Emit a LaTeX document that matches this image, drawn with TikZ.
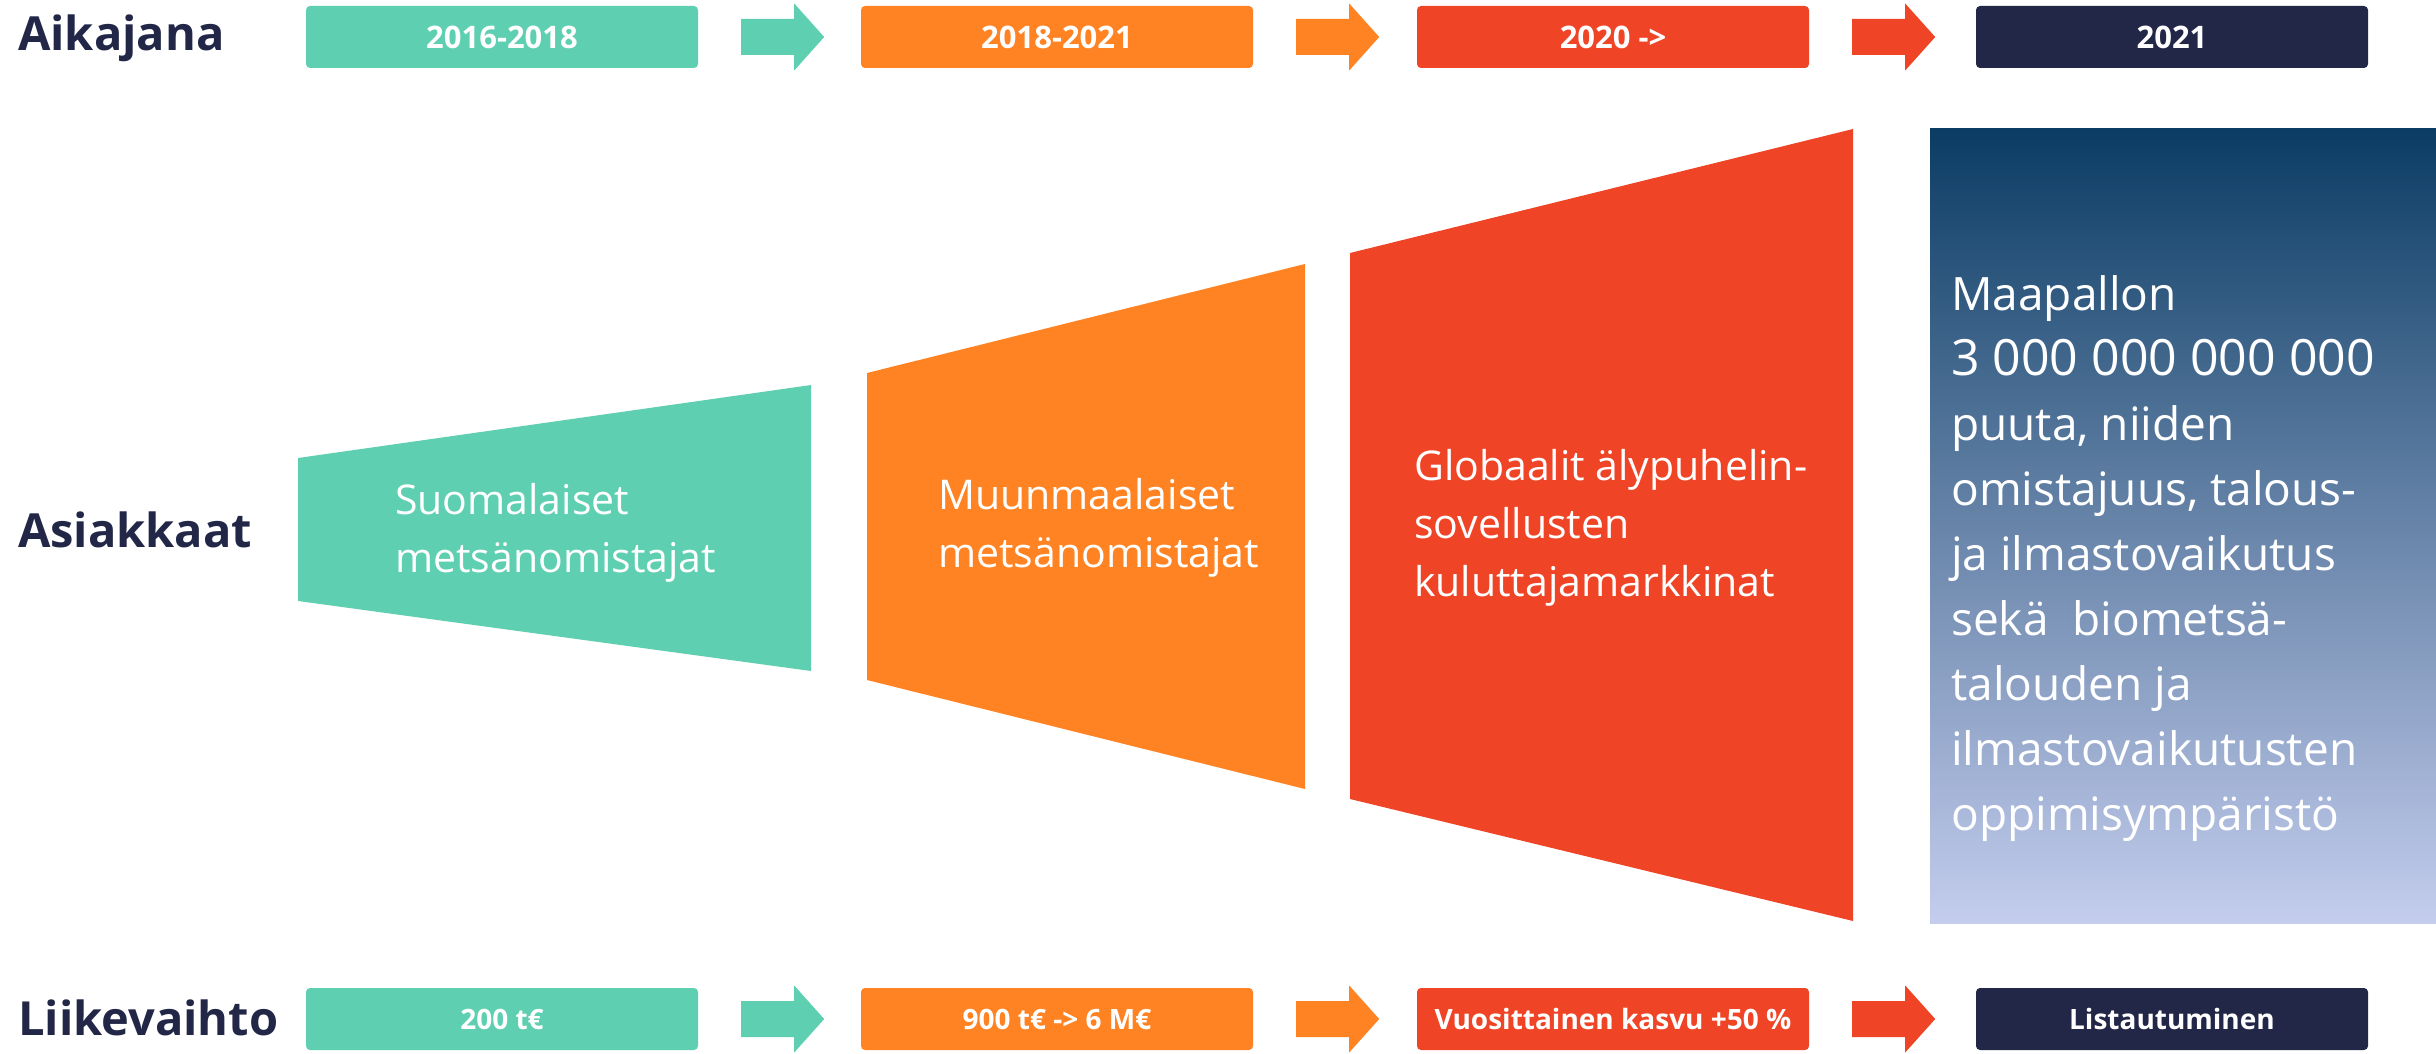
\documentclass[tikz,border=0pt]{standalone}
\usepackage{fontspec}
\setmainfont{Open Sans}
\usetikzlibrary{calc}
\definecolor{cteal}{HTML}{5ECFB1}
\definecolor{corange}{HTML}{FF8323}
\definecolor{cred}{HTML}{F04426}
\definecolor{cnavy}{HTML}{222747}
\definecolor{gtop}{HTML}{0B3C64}
\definecolor{gmid}{HTML}{6782B2}
\definecolor{gbot}{HTML}{C4CDEE}
\begin{document}
\begin{tikzpicture}[x=1pt,y=-1pt,
  rowlabel/.style={anchor=base west,text=cnavy,inner sep=0,font=\fontsize{47}{56}\selectfont\bfseries},
  tbox/.style={minimum width=392pt,minimum height=62pt,rounded corners=4pt,inner sep=0,text=white,font=\fontsize{28}{32}\selectfont\bfseries},
  topbox/.style={tbox,font=\fontsize{31}{34}\selectfont\bfseries},
  traptext/.style={text=white,align=left,anchor=west,inner sep=0,font=\fontsize{41}{58}\selectfont},
  earthtext/.style={text=white,align=left,anchor=west,inner sep=0,font=\fontsize{46}{65}\selectfont}
]
\useasboundingbox (0,0) rectangle (2436,1054);

% row labels
\node[rowlabel] (lAika) at (18,51) {Aikajana};
\node[rowlabel] (lAsia) at (18,547) {Asiakkaat};
\node[rowlabel] (lLiike) at (18,1035) {Liikevaihto};

% top row
\node[topbox,fill=cteal]   (t1) at (502,37)  {2016-2018};
\node[topbox,fill=corange] (t2) at (1057,37) {2018-2021};
\node[topbox,fill=cred]    (t3) at (1613,37) {2020 ->};
\node[topbox,fill=cnavy]   (t4) at (2172,37) {2021};

% bottom row
\node[tbox,fill=cteal]   (b1) at (502,1019)  {200 t€};
\node[tbox,fill=corange] (b2) at (1057,1019) {900 t€ -> 6 M€};
\node[tbox,fill=cred]    (b3) at (1613,1019) {Vuosittainen kasvu +50 \%};
\node[tbox,fill=cnavy]   (b4) at (2172,1019) {Listautuminen};

% block arrows
\foreach \n/\c in {t1/cteal,t2/corange,t3/cred,b1/cteal,b2/corange,b3/cred}{
  \fill[\c] ($(\n.east)+(43,-18)$) -- ++(53,0) -- ++(0,-15.5) -- ++(30,33.5)
     -- ++(-30,33.5) -- ++(0,-15.5) -- ++(-53,0) -- cycle;
}

% trapezoids
\fill[cteal]   (298,458) -- (811,385) -- (811,671) -- (298,601) -- cycle;
\fill[corange] (867,373) -- (1305,264) -- (1305,789) -- (867,680) -- cycle;
\fill[cred]    (1350,253) -- (1853,129) -- (1853,921) -- (1350,799) -- cycle;

\node[traptext] (a1) at (395,533) {Suomalaiset\\metsänomistajat};
\node[traptext] (a2) at (938,528) {Muunmaalaiset\\metsänomistajat};
\node[traptext] (a3) at (1414,528) {Globaalit älypuhelin-\\sovellusten\\kuluttajamarkkinat};

% gradient box
\fill[top color=gtop,middle color=gmid,bottom color=gbot] (1930,129) rectangle (2436,923);
\node[earthtext] (earth) at (1951,559) {Maapallon\\{\fontsize{50}{65}\selectfont 3 000 000 000 000}\\puuta, niiden\\omistajuus, talous-\\ja ilmastovaikutus\\sekä\ \ biometsä-\\talouden ja\\ilmastovaikutusten\\oppimisympäristö};
\end{tikzpicture}
\end{document}
